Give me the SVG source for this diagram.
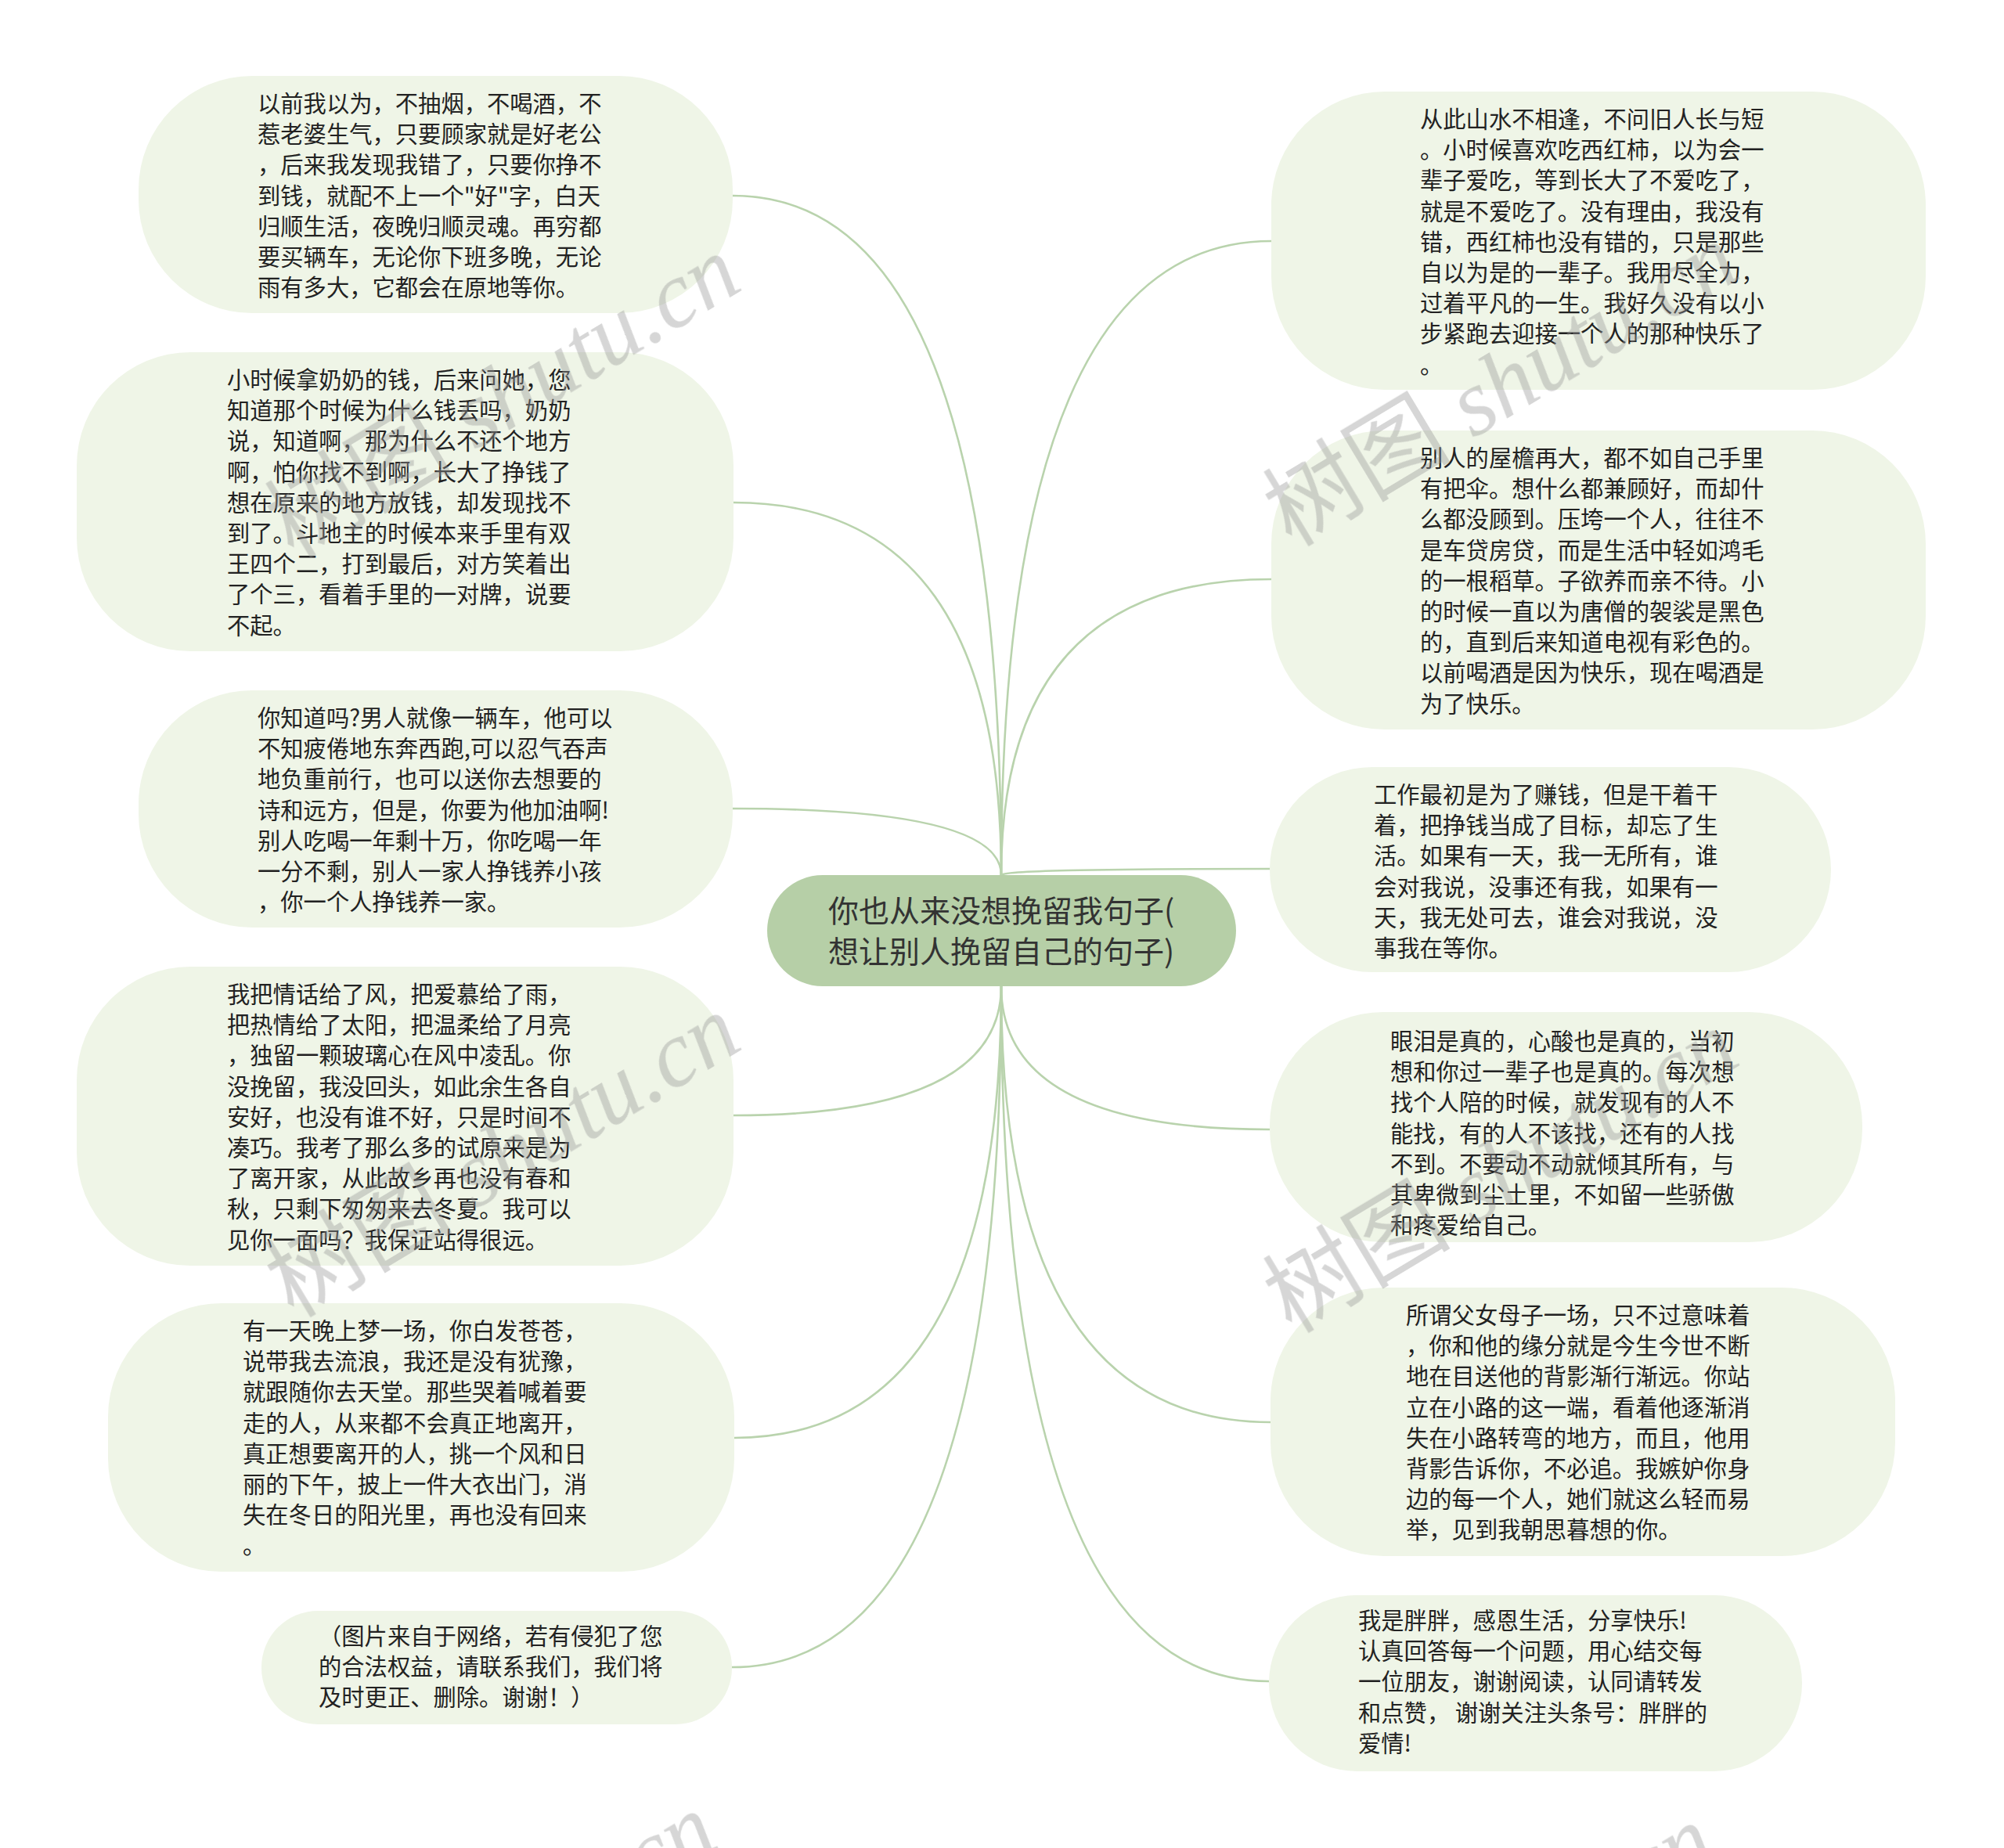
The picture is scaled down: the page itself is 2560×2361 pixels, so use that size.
<svg xmlns="http://www.w3.org/2000/svg" width="2560" height="2361" viewBox="0 0 2560 2361">
<style>
.node rect{fill:#eff5e7;}
.t{font-family:"Noto Sans CJK SC","Noto Sans",sans-serif;font-size:29.3px;fill:#222;}
.ct{font-family:"Noto Sans CJK SC","Noto Sans",sans-serif;font-size:39px;fill:#333;text-anchor:middle;}
.links path{fill:none;stroke:#b9d3ad;stroke-width:2.6;}
.wm{font-size:120px;fill:#9a9a9a;opacity:0.4;}
.wm .cj{font-family:"Noto Sans CJK SC",sans-serif;}
.wm .en{font-family:"Liberation Serif",serif;font-style:italic;}
</style>
<rect width="2560" height="2361" fill="#ffffff"/>
<g class="links">
<path d="M1279,1118 Q1279,250 936,250"/>
<path d="M1279,1118 Q1279,642 937,642"/>
<path d="M1279,1118 Q1279,1033 936,1033"/>
<path d="M1279,1260 Q1279,1425 937,1425"/>
<path d="M1279,1260 Q1279,1837 938,1837"/>
<path d="M1279,1260 Q1279,2130 935,2130"/>
<path d="M1279,1118 Q1279,308 1624,308"/>
<path d="M1279,1118 Q1279,740 1624,740"/>
<path d="M1279,1118 Q1279,1110 1622,1110"/>
<path d="M1279,1260 Q1279,1443 1622,1443"/>
<path d="M1279,1260 Q1279,1817 1623,1817"/>
<path d="M1279,1260 Q1279,2148 1621,2148"/>
</g>
<g id="center" class="node">
<rect x="980" y="1118" width="599" height="142" rx="71" style="fill:#b6cfa7"/>
<text class="ct"><tspan x="1279" y="1178">你也从来没想挽留我句子(</tspan><tspan x="1279" y="1230">想让别人挽留自己的句子)</tspan></text>
</g>
<g id="n1" class="node">
<rect x="177" y="97" width="759" height="303" rx="145"/>
<text class="t"><tspan x="329" y="143">以前我以为，不抽烟，不喝酒，不</tspan><tspan x="329" dy="39.2">惹老婆生气，只要顾家就是好老公</tspan><tspan x="329" dy="39.2">，后来我发现我错了，只要你挣不</tspan><tspan x="329" dy="39.2">到钱，就配不上一个"好"字，白天</tspan><tspan x="329" dy="39.2">归顺生活，夜晚归顺灵魂。再穷都</tspan><tspan x="329" dy="39.2">要买辆车，无论你下班多晚，无论</tspan><tspan x="329" dy="39.2">雨有多大，它都会在原地等你。</tspan></text>
</g>
<g id="n2" class="node">
<rect x="98" y="450" width="839" height="382" rx="145"/>
<text class="t"><tspan x="290" y="496">小时候拿奶奶的钱，后来问她，您</tspan><tspan x="290" dy="39.2">知道那个时候为什么钱丢吗，奶奶</tspan><tspan x="290" dy="39.2">说，知道啊，那为什么不还个地方</tspan><tspan x="290" dy="39.2">啊，怕你找不到啊，长大了挣钱了</tspan><tspan x="290" dy="39.2">想在原来的地方放钱，却发现找不</tspan><tspan x="290" dy="39.2">到了。斗地主的时候本来手里有双</tspan><tspan x="290" dy="39.2">王四个二，打到最后，对方笑着出</tspan><tspan x="290" dy="39.2">了个三，看着手里的一对牌，说要</tspan><tspan x="290" dy="39.2">不起。</tspan></text>
</g>
<g id="n3" class="node">
<rect x="177" y="882" width="759" height="303" rx="145"/>
<text class="t"><tspan x="329" y="928">你知道吗?男人就像一辆车，他可以</tspan><tspan x="329" dy="39.2">不知疲倦地东奔西跑,可以忍气吞声</tspan><tspan x="329" dy="39.2">地负重前行，也可以送你去想要的</tspan><tspan x="329" dy="39.2">诗和远方，但是，你要为他加油啊!</tspan><tspan x="329" dy="39.2">别人吃喝一年剩十万，你吃喝一年</tspan><tspan x="329" dy="39.2">一分不剩，别人一家人挣钱养小孩</tspan><tspan x="329" dy="39.2">，你一个人挣钱养一家。</tspan></text>
</g>
<g id="n4" class="node">
<rect x="98" y="1235" width="839" height="382" rx="145"/>
<text class="t"><tspan x="290" y="1281">我把情话给了风，把爱慕给了雨，</tspan><tspan x="290" dy="39.2">把热情给了太阳，把温柔给了月亮</tspan><tspan x="290" dy="39.2">，独留一颗玻璃心在风中凌乱。你</tspan><tspan x="290" dy="39.2">没挽留，我没回头，如此余生各自</tspan><tspan x="290" dy="39.2">安好，也没有谁不好，只是时间不</tspan><tspan x="290" dy="39.2">凑巧。我考了那么多的试原来是为</tspan><tspan x="290" dy="39.2">了离开家，从此故乡再也没有春和</tspan><tspan x="290" dy="39.2">秋，只剩下匆匆来去冬夏。我可以</tspan><tspan x="290" dy="39.2">见你一面吗？我保证站得很远。</tspan></text>
</g>
<g id="n5" class="node">
<rect x="138" y="1665" width="800" height="343" rx="145"/>
<text class="t"><tspan x="310" y="1711">有一天晚上梦一场，你白发苍苍，</tspan><tspan x="310" dy="39.2">说带我去流浪，我还是没有犹豫，</tspan><tspan x="310" dy="39.2">就跟随你去天堂。那些哭着喊着要</tspan><tspan x="310" dy="39.2">走的人，从来都不会真正地离开，</tspan><tspan x="310" dy="39.2">真正想要离开的人，挑一个风和日</tspan><tspan x="310" dy="39.2">丽的下午，披上一件大衣出门，消</tspan><tspan x="310" dy="39.2">失在冬日的阳光里，再也没有回来</tspan><tspan x="310" dy="39.2">。</tspan></text>
</g>
<g id="n6" class="node">
<rect x="334" y="2058" width="601" height="145" rx="72"/>
<text class="t"><tspan x="407" y="2101">（图片来自于网络，若有侵犯了您</tspan><tspan x="407" dy="39.2">的合法权益，请联系我们，我们将</tspan><tspan x="407" dy="39.2">及时更正、删除。谢谢！）</tspan></text>
</g>
<g id="r1" class="node">
<rect x="1624" y="117" width="836" height="381" rx="145"/>
<text class="t"><tspan x="1814" y="163">从此山水不相逢，不问旧人长与短</tspan><tspan x="1814" dy="39.2">。小时候喜欢吃西红柿，以为会一</tspan><tspan x="1814" dy="39.2">辈子爱吃，等到长大了不爱吃了，</tspan><tspan x="1814" dy="39.2">就是不爱吃了。没有理由，我没有</tspan><tspan x="1814" dy="39.2">错，西红柿也没有错的，只是那些</tspan><tspan x="1814" dy="39.2">自以为是的一辈子。我用尽全力，</tspan><tspan x="1814" dy="39.2">过着平凡的一生。我好久没有以小</tspan><tspan x="1814" dy="39.2">步紧跑去迎接一个人的那种快乐了</tspan><tspan x="1814" dy="39.2">。</tspan></text>
</g>
<g id="r2" class="node">
<rect x="1624" y="550" width="836" height="382" rx="145"/>
<text class="t"><tspan x="1814" y="596">别人的屋檐再大，都不如自己手里</tspan><tspan x="1814" dy="39.2">有把伞。想什么都兼顾好，而却什</tspan><tspan x="1814" dy="39.2">么都没顾到。压垮一个人，往往不</tspan><tspan x="1814" dy="39.2">是车贷房贷，而是生活中轻如鸿毛</tspan><tspan x="1814" dy="39.2">的一根稻草。子欲养而亲不待。小</tspan><tspan x="1814" dy="39.2">的时候一直以为唐僧的袈裟是黑色</tspan><tspan x="1814" dy="39.2">的，直到后来知道电视有彩色的。</tspan><tspan x="1814" dy="39.2">以前喝酒是因为快乐，现在喝酒是</tspan><tspan x="1814" dy="39.2">为了快乐。</tspan></text>
</g>
<g id="r3" class="node">
<rect x="1622" y="980" width="717" height="262" rx="131"/>
<text class="t"><tspan x="1755" y="1026">工作最初是为了赚钱，但是干着干</tspan><tspan x="1755" dy="39.2">着，把挣钱当成了目标，却忘了生</tspan><tspan x="1755" dy="39.2">活。如果有一天，我一无所有，谁</tspan><tspan x="1755" dy="39.2">会对我说，没事还有我，如果有一</tspan><tspan x="1755" dy="39.2">天，我无处可去，谁会对我说，没</tspan><tspan x="1755" dy="39.2">事我在等你。</tspan></text>
</g>
<g id="r4" class="node">
<rect x="1622" y="1293" width="757" height="294" rx="145"/>
<text class="t"><tspan x="1776" y="1341">眼泪是真的，心酸也是真的，当初</tspan><tspan x="1776" dy="39.2">想和你过一辈子也是真的。每次想</tspan><tspan x="1776" dy="39.2">找个人陪的时候，就发现有的人不</tspan><tspan x="1776" dy="39.2">能找，有的人不该找，还有的人找</tspan><tspan x="1776" dy="39.2">不到。不要动不动就倾其所有，与</tspan><tspan x="1776" dy="39.2">其卑微到尘土里，不如留一些骄傲</tspan><tspan x="1776" dy="39.2">和疼爱给自己。</tspan></text>
</g>
<g id="r5" class="node">
<rect x="1623" y="1645" width="798" height="343" rx="145"/>
<text class="t"><tspan x="1796" y="1691">所谓父女母子一场，只不过意味着</tspan><tspan x="1796" dy="39.2">，你和他的缘分就是今生今世不断</tspan><tspan x="1796" dy="39.2">地在目送他的背影渐行渐远。你站</tspan><tspan x="1796" dy="39.2">立在小路的这一端，看着他逐渐消</tspan><tspan x="1796" dy="39.2">失在小路转弯的地方，而且，他用</tspan><tspan x="1796" dy="39.2">背影告诉你，不必追。我嫉妒你身</tspan><tspan x="1796" dy="39.2">边的每一个人，她们就这么轻而易</tspan><tspan x="1796" dy="39.2">举，见到我朝思暮想的你。</tspan></text>
</g>
<g id="r6" class="node">
<rect x="1621" y="2038" width="681" height="225" rx="112"/>
<text class="t"><tspan x="1735" y="2081">我是胖胖，感恩生活，分享快乐!</tspan><tspan x="1735" dy="39.2">认真回答每一个问题，用心结交每</tspan><tspan x="1735" dy="39.2">一位朋友，谢谢阅读，认同请转发</tspan><tspan x="1735" dy="39.2">和点赞， 谢谢关注头条号：胖胖的</tspan><tspan x="1735" dy="39.2">爱情!</tspan></text>
</g>
<g class="wm">
<text transform="translate(375,715) rotate(-31)"><tspan class="cj">树图</tspan><tspan class="en"> shutu.cn</tspan></text>
<text transform="translate(1650,700) rotate(-31)"><tspan class="cj">树图</tspan><tspan class="en"> shutu.cn</tspan></text>
<text transform="translate(375,1685) rotate(-31)"><tspan class="cj">树图</tspan><tspan class="en"> shutu.cn</tspan></text>
<text transform="translate(1650,1705) rotate(-31)"><tspan class="cj">树图</tspan><tspan class="en"> shutu.cn</tspan></text>
<text transform="translate(345,2705) rotate(-31)"><tspan class="cj">树图</tspan><tspan class="en"> shutu.cn</tspan></text>
<text transform="translate(1620,2720) rotate(-31)"><tspan class="cj">树图</tspan><tspan class="en"> shutu.cn</tspan></text>
</g>
</svg>
